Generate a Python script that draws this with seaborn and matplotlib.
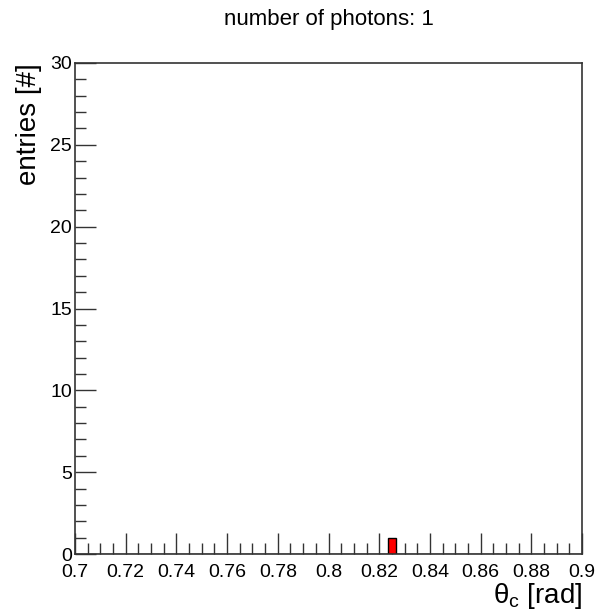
import matplotlib
matplotlib.use('Agg')
import matplotlib.pyplot as plt
import seaborn as sns
from matplotlib.ticker import MultipleLocator

# histogram data (one photon)
theta_c = [0.825]
n_bins = 60
x_range = (0.7, 0.9)
y_max = 30
title = "number of photons: 1"

sns.set_style('white')
plt.rcParams['font.family'] = ['Liberation Sans', 'DejaVu Sans']
plt.rcParams['mathtext.default'] = 'regular'
plt.rcParams['text.color'] = 'black'
plt.rcParams['axes.labelcolor'] = 'black'
plt.rcParams['xtick.color'] = 'black'
plt.rcParams['ytick.color'] = 'black'

fig = plt.figure(figsize=(6, 6.14), dpi=100)
ax = fig.add_axes([0.125, 0.0977, 0.845, 0.7997])

sns.histplot(x=theta_c, bins=n_bins, binrange=x_range, color='red',
             edgecolor='black', linewidth=1, alpha=1, ax=ax)

ax.set_xlim(*x_range)
ax.set_ylim(0, y_max)
ax.xaxis.set_major_locator(MultipleLocator(0.02))
ax.xaxis.set_minor_locator(MultipleLocator(0.005))
ax.yaxis.set_major_locator(MultipleLocator(5))
ax.yaxis.set_minor_locator(MultipleLocator(1))
ax.xaxis.set_major_formatter(plt.FuncFormatter(lambda v, p: f"{v:.2f}".rstrip('0').rstrip('.')))

ax.tick_params(which='both', direction='in', bottom=True, left=True, top=False, right=False,
               labelsize=14, width=1, color='#333333')
ax.tick_params(which='major', length=15)
ax.tick_params(which='minor', length=8)
ax.tick_params(axis='x', pad=7.5)
ax.tick_params(axis='y', pad=2)

for s in ax.spines.values():
    s.set_color('#333333')
    s.set_linewidth(1.2)

ax.set_xlabel(r"$\theta_{c}$ [rad]", fontsize=20, loc='right', labelpad=0)
ax.set_ylabel("entries [#]", fontsize=20, loc='top', labelpad=6)
ax.set_title(title, fontsize=16, pad=27)

fig.savefig('out.png', dpi=100, facecolor='white')
